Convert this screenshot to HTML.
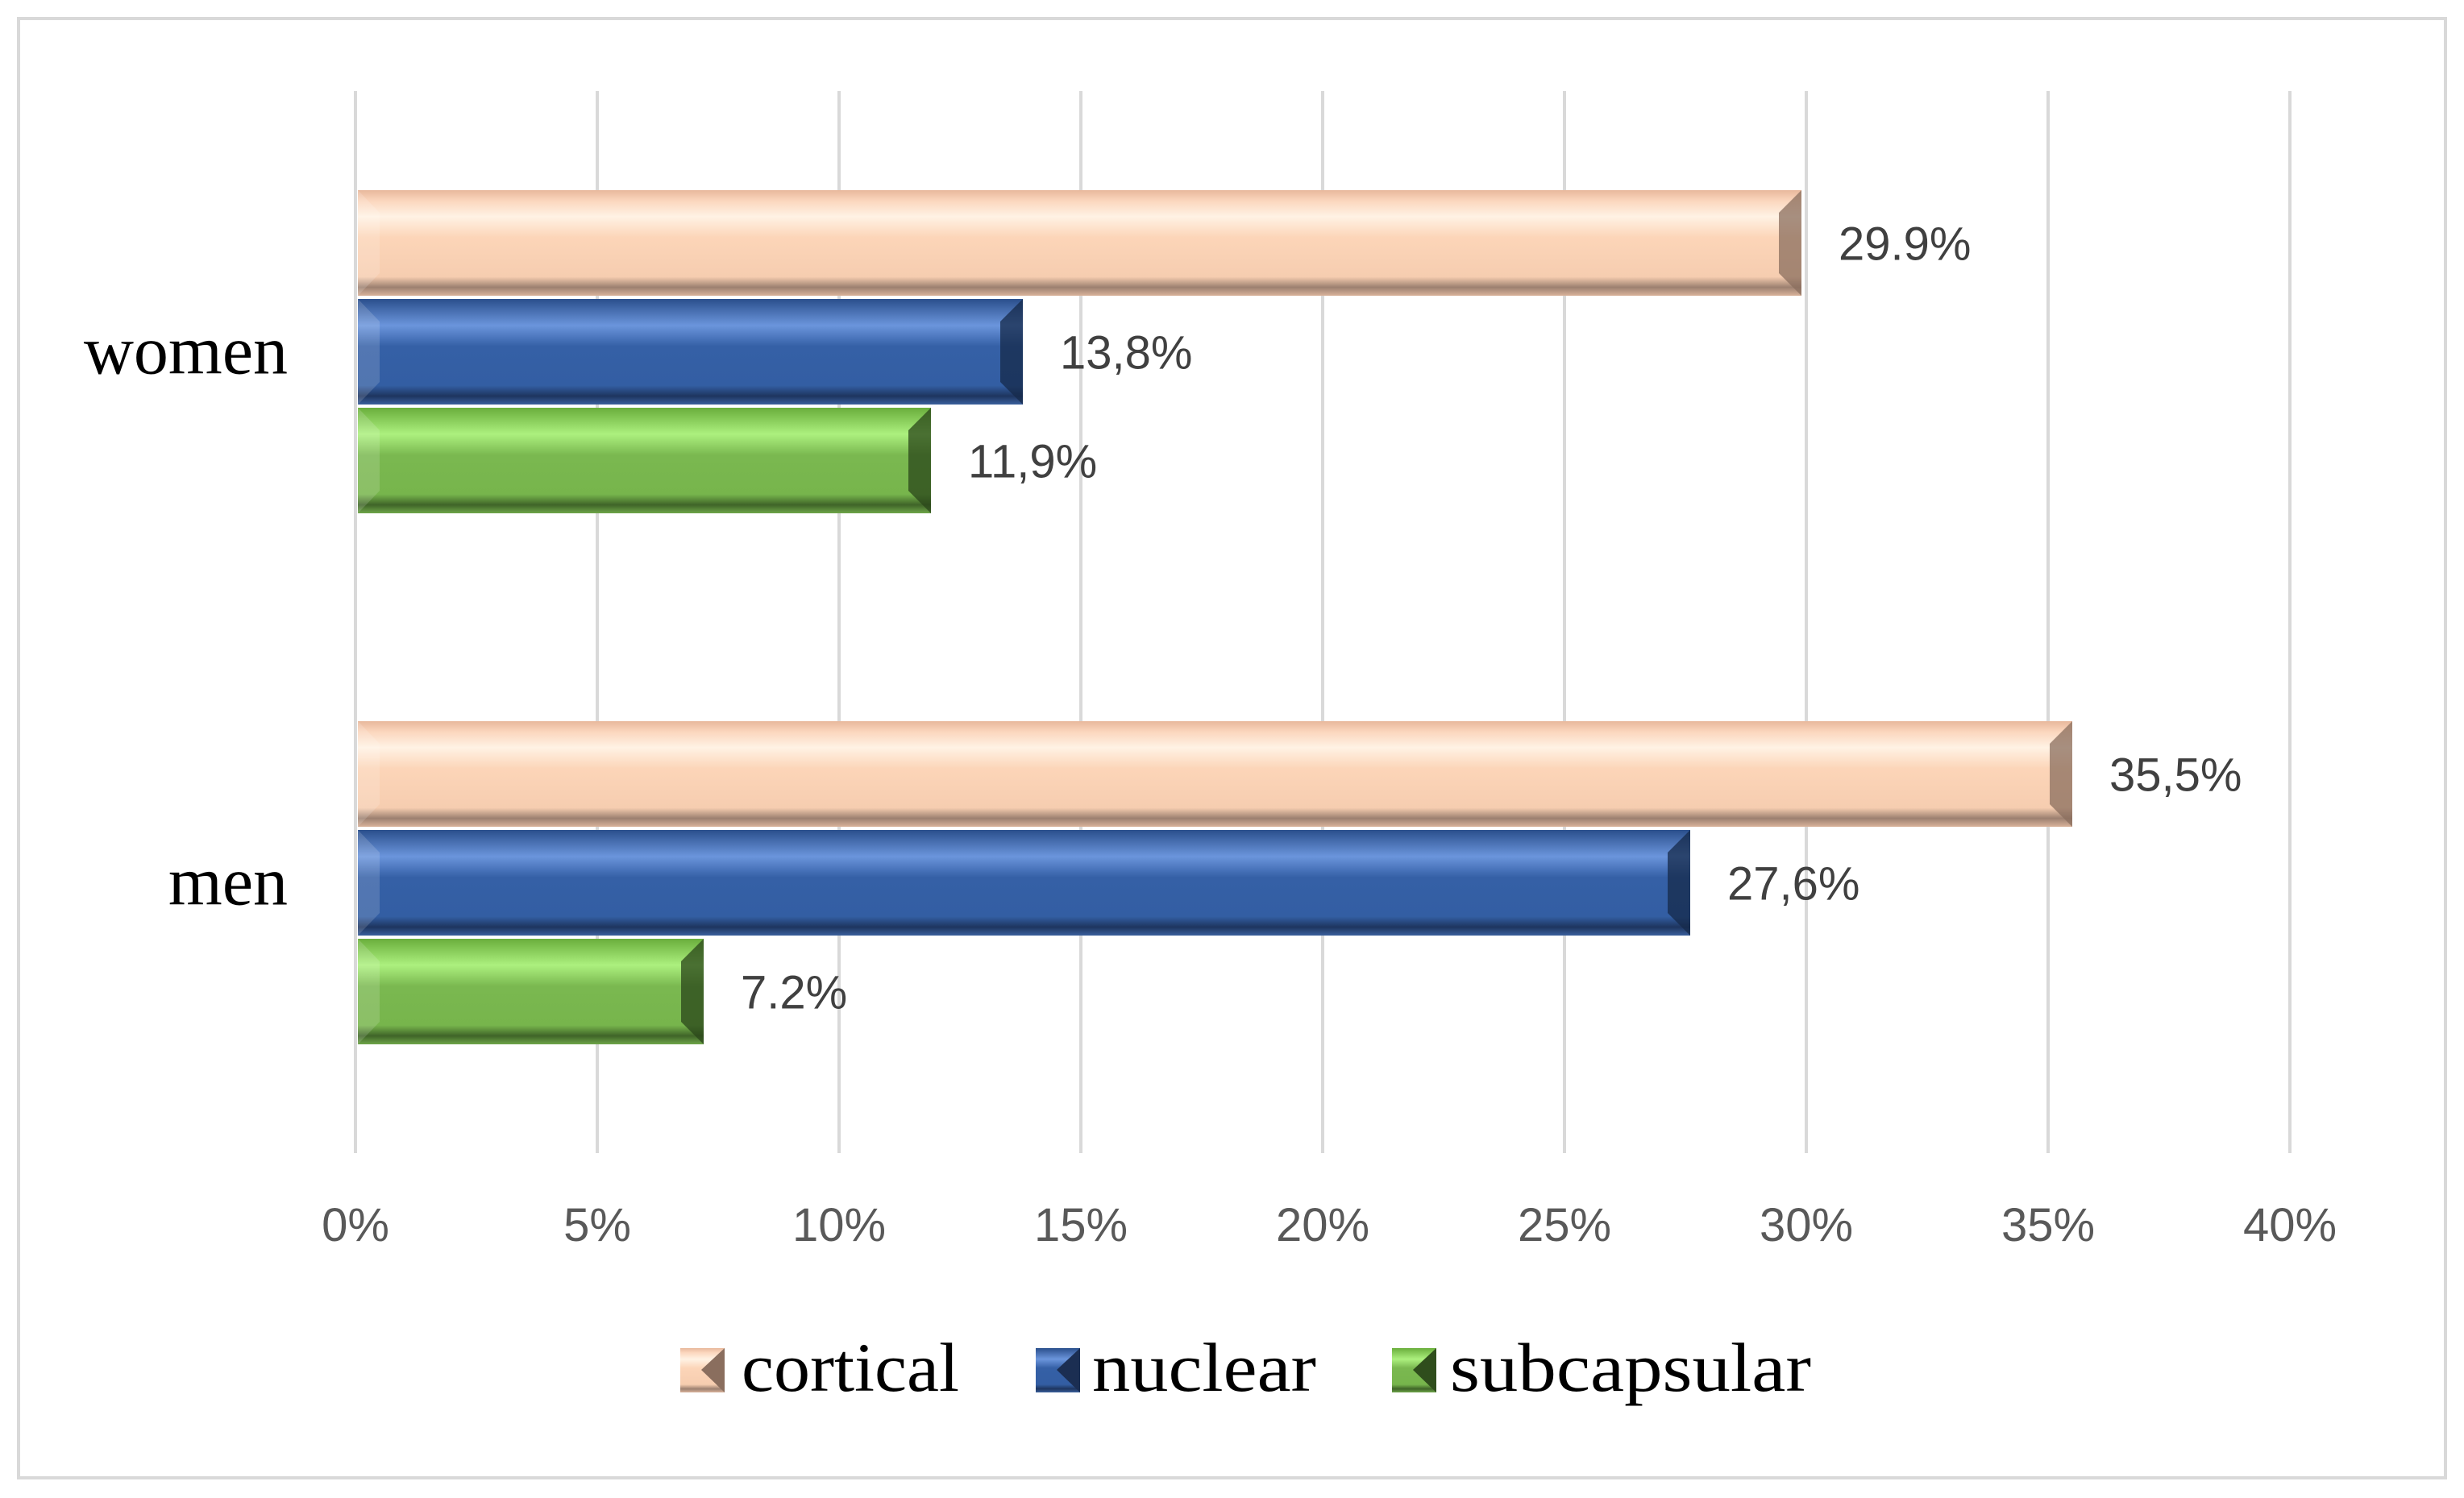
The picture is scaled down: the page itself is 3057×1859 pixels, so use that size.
<!DOCTYPE html>
<html><head><meta charset="utf-8"><style>
html,body{margin:0;padding:0;background:#fff}
svg{display:block}
</style></head><body>
<svg id="chart" width="3057" height="1859" viewBox="0 0 3057 1859" xmlns="http://www.w3.org/2000/svg">
<defs>
<linearGradient id="gc" x1="0" y1="0" x2="0" y2="1">
<stop offset="0" stop-color="#e8b89c"/><stop offset="0.1" stop-color="#fbd6bd"/><stop offset="0.25" stop-color="#fff2e4"/><stop offset="0.45" stop-color="#fcd5b8"/><stop offset="0.82" stop-color="#f6cdb0"/><stop offset="0.92" stop-color="#9c8070"/><stop offset="1" stop-color="#d9b29a"/>
</linearGradient>
<linearGradient id="gn" x1="0" y1="0" x2="0" y2="1">
<stop offset="0" stop-color="#2a4f8c"/><stop offset="0.25" stop-color="#6b95dc"/><stop offset="0.45" stop-color="#3560a6"/><stop offset="0.82" stop-color="#335ea3"/><stop offset="0.92" stop-color="#1e355f"/><stop offset="1" stop-color="#3a5f9c"/>
</linearGradient>
<linearGradient id="gs" x1="0" y1="0" x2="0" y2="1">
<stop offset="0" stop-color="#6aae3c"/><stop offset="0.25" stop-color="#acf07e"/><stop offset="0.45" stop-color="#7ab850"/><stop offset="0.82" stop-color="#77b54c"/><stop offset="0.92" stop-color="#3f6428"/><stop offset="1" stop-color="#6ea549"/>
</linearGradient>
</defs>
<rect x="23" y="23" width="3011" height="1811" fill="#fff" stroke="#d9d9d9" stroke-width="4"/>
<g id="grid"></g><g id="bars"></g><g id="labels"></g>
<g font-family="'Liberation Serif', serif" font-size="86" fill="#000">
<g><rect x="844" y="1673" width="55" height="55" fill="url(#gc)"/><polygon points="870,1700 899,1673 899,1728" fill="#8a6e5e"/><text x="920" y="1726" textLength="270" lengthAdjust="spacingAndGlyphs">cortical</text></g>
<g><rect x="1285" y="1673" width="55" height="55" fill="url(#gn)"/><polygon points="1311,1700 1340,1673 1340,1728" fill="#1b2e52"/><text x="1355" y="1726" textLength="278" lengthAdjust="spacingAndGlyphs">nuclear</text></g>
<g><rect x="1727" y="1673" width="55" height="55" fill="url(#gs)"/><polygon points="1753,1700 1782,1673 1782,1728" fill="#2f4d1c"/><text x="1799" y="1726" textLength="448" lengthAdjust="spacingAndGlyphs">subcapsular</text></g>
</g>
</svg>
<script>
const categories = ["women", "men"];
const seriesNames = ["cortical", "nuclear", "subcapsular"];
const cortical = [29.9, 35.5];
const nuclear = [13.8, 27.6];
const subcapsular = [11.9, 7.2];
const valueLabels = [["29.9%", "35,5%"], ["13,8%", "27,6%"], ["11,9%", "7.2%"]];
const ticks = [0, 5, 10, 15, 20, 25, 30, 35, 40];
const tickLabels = ["0%", "5%", "10%", "15%", "20%", "25%", "30%", "35%", "40%"];

const NS = "http://www.w3.org/2000/svg";
const plotTop = 113, plotBottom = 1431, x0 = 441, pxPer = 60;
function xScale(v){ return x0 + v * pxPer; }
const band = (plotBottom - plotTop) / categories.length;
function bandCenter(i){ return plotTop + band * (i + 0.5); }
const barH = 135;
function mk(tag, attrs, parent){ const e = document.createElementNS(NS, tag); for (const k in attrs) e.setAttribute(k, attrs[k]); parent.appendChild(e); return e; }

const grid = document.getElementById('grid');
ticks.forEach((t, i) => {
  const l = mk('line', {x1: xScale(t), x2: xScale(t), y1: plotTop, y2: plotBottom, stroke: '#d9d9d9', 'stroke-width': 4}, grid);
  
  
  const tx = mk('text', {x: xScale(t), y: 1540, 'text-anchor': 'middle', 'font-family': "'Liberation Sans', sans-serif", 'font-size': 58, fill: '#595959'}, grid);
  tx.textContent = tickLabels[i];
  
  
});

const bars = document.getElementById('bars');
const labels = document.getElementById('labels');
const series = [cortical, nuclear, subcapsular];
const fills = ['url(#gc)', 'url(#gn)', 'url(#gs)'];
const ends = ['#8a6e5e', '#16294a', '#2a4519'];
categories.forEach((c, ci) => {
  const cy = bandCenter(ci) - 6;
  const ct = mk('text', {x: 357, y: cy + 27, 'text-anchor': 'end', 'font-family': "'Liberation Serif', serif", 'font-size': 86, fill: '#000'}, labels);
  ct.textContent = c;
  
  
  series.forEach((s, si) => {
    const y = cy - 1.5 * barH + si * barH;
    const xe = xScale(s[ci]);
    const g = mk('g', {}, bars);
    
    
    mk('rect', {x: x0 + 3, y: y + 2, width: xe - x0 - 3, height: barH - 4, fill: fills[si]}, g);
    mk('polygon', {points: `${xe-28},${y+30} ${xe},${y+2} ${xe},${y+barH-2} ${xe-28},${y+barH-30}`, fill: ends[si], opacity: 0.75}, g);
    mk('polygon', {points: `${x0+3},${y+2} ${x0+30},${y+30} ${x0+30},${y+barH-30} ${x0+3},${y+barH-2}`, fill: '#fff', opacity: 0.15}, g);
    const vt = mk('text', {x: xe + 46, y: y + barH / 2 + 21, 'font-family': "'Liberation Sans', sans-serif", 'font-size': 58, fill: '#404040'}, labels);
    vt.textContent = valueLabels[si][ci];
    
    
  });
});
</script>
</body></html>
